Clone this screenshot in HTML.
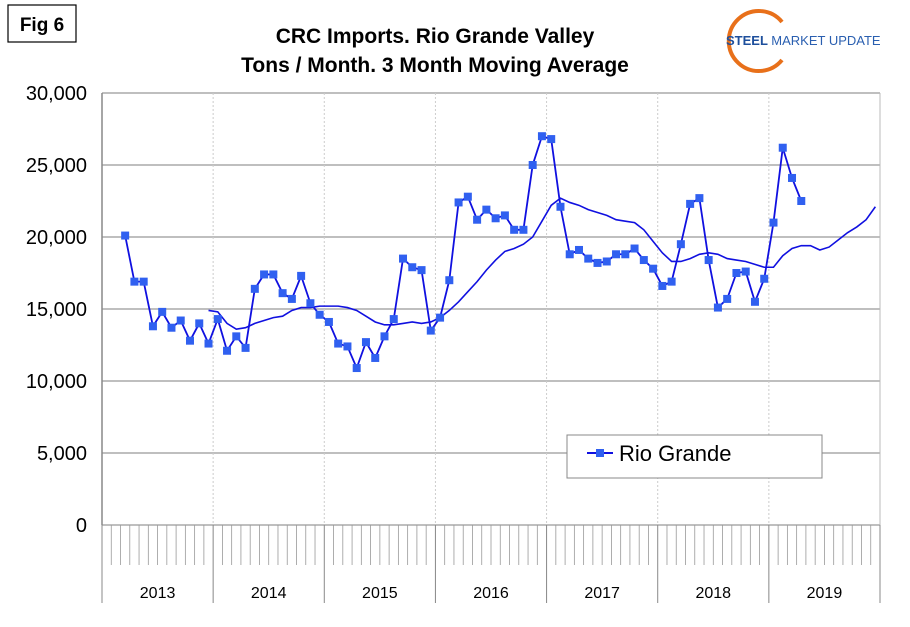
<!DOCTYPE html>
<html><head><meta charset="utf-8"><style>
body{margin:0;background:#fff;font-family:"Liberation Sans",Arial,sans-serif}
</style></head><body>
<svg width="910" height="622" viewBox="0 0 910 622" xmlns="http://www.w3.org/2000/svg">
<rect x="0" y="0" width="910" height="622" fill="#fff"/>
<g>
<rect x="8" y="5" width="68" height="37" fill="#fff" stroke="#000" stroke-width="1.2"/>
<text x="42" y="31" text-anchor="middle" font-size="19" font-weight="bold">Fig 6</text></g>
<text x="435" y="43" text-anchor="middle" font-size="21" font-weight="bold">CRC Imports. Rio Grande Valley</text>
<text x="435" y="72" text-anchor="middle" font-size="21" font-weight="bold">Tons / Month. 3 Month Moving Average</text>
<g>
<path d="M782,22 A30,30 0 1,0 782,60" fill="none" stroke="#e8701a" stroke-width="4"/>
<text x="726" y="45" font-size="13" font-weight="bold" fill="#1e4f9c">STEEL <tspan font-weight="normal" fill="#2a5fb0">MARKET UPDATE</tspan></text></g>
<g id="grid"></g>
<g id="axes"></g>
<g id="series"></g>
<g>
<rect x="567" y="435" width="255" height="43" fill="#fff" stroke="#888"/>
<line x1="587" y1="453" x2="613" y2="453" stroke="#1010e0" stroke-width="2"/>
<rect x="596" y="449" width="8" height="8" fill="#3060f0"/>
<text x="619" y="461" font-size="22">Rio Grande</text></g>
</svg>
<script>
const years=["2013","2014","2015","2016","2017","2018","2019"];
const yTicks=[0,5000,10000,15000,20000,25000,30000];
const startIndex=2;
const rioGrande=[20100,16900,16900,13800,14800,13700,14200,12800,14000,12600,14300,12100,13100,12300,16400,17400,17400,16100,15700,17300,15400,14600,14100,12600,12400,10900,12700,11600,13100,14300,18500,17900,17700,13500,14400,17000,22400,22800,21200,21900,21300,21500,20500,20500,25000,27000,26800,22100,18800,19100,18500,18200,18300,18800,18800,19200,18400,17800,16600,16900,19500,22300,22700,18400,15100,15700,17500,17600,15500,17100,21000,26200,24100,22500];
const maStart=11;
const movingAvg=[14900,14800,14000,13600,13700,14000,14200,14400,14500,14900,15100,15100,15200,15200,15200,15100,14900,14500,14100,13900,13900,14000,14100,14000,14100,14400,14900,15500,16200,16900,17700,18400,19000,19200,19500,20000,21100,22200,22700,22400,22200,21900,21700,21500,21200,21100,21000,20500,19700,18900,18300,18300,18500,18800,18900,18800,18500,18400,18300,18100,17900,17900,18700,19200,19400,19400,19100,19300,19800,20300,20700,21200,22100];
const NS="http://www.w3.org/2000/svg";
const L=102,R=880,T=93,B=525,months=84;
const mw=(R-L)/months;
const xs=i=>L+(i+0.5)*mw;
const ys=v=>B-(v/30000)*(B-T);
function mk(t,a,p){const e=document.createElementNS(NS,t);for(const k in a)e.setAttribute(k,a[k]);p.appendChild(e);return e;}
const grid=document.getElementById('grid'),axes=document.getElementById('axes'),ser=document.getElementById('series');
yTicks.forEach(v=>{
 const l=mk('line',{x1:L,x2:R,y1:ys(v),y2:ys(v),stroke:'#999','stroke-width':1.2},grid);
 
 
 const t=mk('text',{x:87,y:ys(v)+7,'text-anchor':'end','font-size':20},axes);
 t.textContent=v.toLocaleString('en-US');
 
 
});
mk('line',{x1:R,x2:R,y1:T,y2:B,stroke:'#bbb'},grid);
years.forEach((y,k)=>{
 const x0=L+k*12*mw;
 if(k>0){const g=mk('line',{x1:x0,x2:x0,y1:T,y2:B,stroke:'#ccc','stroke-dasharray':'2,2'},grid);
 
 }
 const s=mk('line',{x1:x0,x2:x0,y1:B,y2:603,stroke:'#888'},axes);
 
 
 const t=mk('text',{x:x0+6*mw,y:598,'text-anchor':'middle','font-size':16},axes);
 t.textContent=y;
 
 
});
mk('line',{x1:R,x2:R,y1:B,y2:603,stroke:'#888'},axes);
for(let i=1;i<months;i++){if(i%12)mk('line',{x1:L+i*mw,x2:L+i*mw,y1:B,y2:565,stroke:'#999','stroke-width':0.8},axes);}
mk('line',{x1:L,x2:L,y1:T,y2:B,stroke:'#888','stroke-width':1.5},axes);
const ma=mk('polyline',{points:movingAvg.map((v,i)=>xs(i+maStart)+','+ys(v)).join(' '),fill:'none',stroke:'#1010e0','stroke-width':1.6},ser);


const rl=mk('polyline',{points:rioGrande.map((v,i)=>xs(i+startIndex)+','+ys(v)).join(' '),fill:'none',stroke:'#1010e0','stroke-width':1.8},ser);


rioGrande.forEach((v,i)=>{
 const m=mk('rect',{x:xs(i+startIndex)-4,y:ys(v)-4,width:8,height:8,fill:'#3060f0'},ser);
 
 
});
</script>
</body></html>
